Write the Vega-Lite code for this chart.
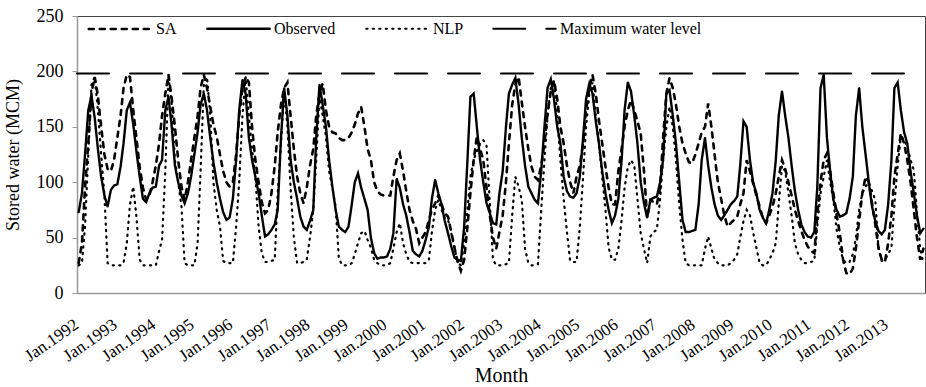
{
"$schema": "https://vega.github.io/schema/vega-lite/v6.json",
"width": 848, "height": 277, "autosize": "none",
"padding": {"left": 77, "top": 16, "right": 1, "bottom": 94},
"background": "white",
"config": {"font": "Liberation Serif", "view": {"stroke": "#444", "strokeWidth": 1},
  "axis": {"labelColor": "#000", "titleColor": "#000", "titleFontWeight": "normal", "grid": false}},
"datasets": {
"storage": [
{"m":"1992-01","SA":27,"Observed":73,"NLP":25},{"m":"1992-02","SA":45,"Observed":90,"NLP":27},{"m":"1992-03","SA":95,"Observed":125,"NLP":60},{"m":"1992-04","SA":135,"Observed":165,"NLP":125},{"m":"1992-05","SA":180,"Observed":178,"NLP":188},{"m":"1992-06","SA":195,"Observed":158,"NLP":195},{"m":"1992-07","SA":178,"Observed":130,"NLP":165},{"m":"1992-08","SA":150,"Observed":105,"NLP":125},{"m":"1992-09","SA":125,"Observed":88,"NLP":88},{"m":"1992-10","SA":112,"Observed":78,"NLP":27},{"m":"1992-11","SA":110,"Observed":93,"NLP":25},{"m":"1992-12","SA":120,"Observed":97,"NLP":25},
{"m":"1993-01","SA":140,"Observed":98,"NLP":25},{"m":"1993-02","SA":160,"Observed":114,"NLP":25},{"m":"1993-03","SA":185,"Observed":135,"NLP":27},{"m":"1993-04","SA":197,"Observed":165,"NLP":45},{"m":"1993-05","SA":195,"Observed":172,"NLP":80},{"m":"1993-06","SA":165,"Observed":152,"NLP":96},{"m":"1993-07","SA":140,"Observed":128,"NLP":69},{"m":"1993-08","SA":114,"Observed":105,"NLP":30},{"m":"1993-09","SA":95,"Observed":85,"NLP":25},{"m":"1993-10","SA":84,"Observed":82,"NLP":25},{"m":"1993-11","SA":88,"Observed":90,"NLP":25},{"m":"1993-12","SA":100,"Observed":95,"NLP":25},
{"m":"1994-01","SA":115,"Observed":96,"NLP":25},{"m":"1994-02","SA":135,"Observed":115,"NLP":38},{"m":"1994-03","SA":160,"Observed":120,"NLP":48},{"m":"1994-04","SA":180,"Observed":165,"NLP":110},{"m":"1994-05","SA":197,"Observed":177,"NLP":195},{"m":"1994-06","SA":175,"Observed":150,"NLP":170},{"m":"1994-07","SA":150,"Observed":115,"NLP":120},{"m":"1994-08","SA":120,"Observed":100,"NLP":100},{"m":"1994-09","SA":96,"Observed":88,"NLP":78},{"m":"1994-10","SA":84,"Observed":81,"NLP":27},{"m":"1994-11","SA":100,"Observed":90,"NLP":25},{"m":"1994-12","SA":120,"Observed":105,"NLP":25},
{"m":"1995-01","SA":140,"Observed":125,"NLP":25},{"m":"1995-02","SA":160,"Observed":145,"NLP":45},{"m":"1995-03","SA":185,"Observed":170,"NLP":110},{"m":"1995-04","SA":197,"Observed":180,"NLP":188},{"m":"1995-05","SA":185,"Observed":165,"NLP":195},{"m":"1995-06","SA":168,"Observed":140,"NLP":160},{"m":"1995-07","SA":152,"Observed":118,"NLP":100},{"m":"1995-08","SA":141,"Observed":100,"NLP":75},{"m":"1995-09","SA":125,"Observed":85,"NLP":60},{"m":"1995-10","SA":110,"Observed":73,"NLP":29},{"m":"1995-11","SA":100,"Observed":66,"NLP":27},{"m":"1995-12","SA":96,"Observed":68,"NLP":27},
{"m":"1996-01","SA":100,"Observed":85,"NLP":27},{"m":"1996-02","SA":125,"Observed":120,"NLP":60},{"m":"1996-03","SA":160,"Observed":165,"NLP":100},{"m":"1996-04","SA":185,"Observed":192,"NLP":160},{"m":"1996-05","SA":195,"Observed":180,"NLP":195},{"m":"1996-06","SA":190,"Observed":140,"NLP":160},{"m":"1996-07","SA":150,"Observed":120,"NLP":130},{"m":"1996-08","SA":120,"Observed":105,"NLP":105},{"m":"1996-09","SA":100,"Observed":90,"NLP":60},{"m":"1996-10","SA":82,"Observed":70,"NLP":36},{"m":"1996-11","SA":72,"Observed":51,"NLP":28},{"m":"1996-12","SA":75,"Observed":53,"NLP":28},
{"m":"1997-01","SA":90,"Observed":57,"NLP":29},{"m":"1997-02","SA":115,"Observed":62,"NLP":30},{"m":"1997-03","SA":145,"Observed":75,"NLP":90},{"m":"1997-04","SA":170,"Observed":140,"NLP":135},{"m":"1997-05","SA":185,"Observed":185,"NLP":183},{"m":"1997-06","SA":190,"Observed":160,"NLP":150},{"m":"1997-07","SA":160,"Observed":120,"NLP":95},{"m":"1997-08","SA":130,"Observed":100,"NLP":50},{"m":"1997-09","SA":105,"Observed":85,"NLP":27},{"m":"1997-10","SA":90,"Observed":69,"NLP":27},{"m":"1997-11","SA":81,"Observed":60,"NLP":28},{"m":"1997-12","SA":95,"Observed":57,"NLP":30},
{"m":"1998-01","SA":115,"Observed":65,"NLP":50},{"m":"1998-02","SA":130,"Observed":75,"NLP":75},{"m":"1998-03","SA":160,"Observed":140,"NLP":120},{"m":"1998-04","SA":180,"Observed":188,"NLP":178},{"m":"1998-05","SA":189,"Observed":170,"NLP":160},{"m":"1998-06","SA":165,"Observed":150,"NLP":141},{"m":"1998-07","SA":150,"Observed":120,"NLP":110},{"m":"1998-08","SA":145,"Observed":96,"NLP":95},{"m":"1998-09","SA":144,"Observed":75,"NLP":78},{"m":"1998-10","SA":140,"Observed":60,"NLP":32},{"m":"1998-11","SA":138,"Observed":57,"NLP":25},{"m":"1998-12","SA":138,"Observed":55,"NLP":25},
{"m":"1999-01","SA":140,"Observed":60,"NLP":25},{"m":"1999-02","SA":145,"Observed":80,"NLP":27},{"m":"1999-03","SA":152,"Observed":100,"NLP":35},{"m":"1999-04","SA":162,"Observed":108,"NLP":45},{"m":"1999-05","SA":168,"Observed":95,"NLP":54},{"m":"1999-06","SA":150,"Observed":85,"NLP":56},{"m":"1999-07","SA":130,"Observed":75,"NLP":48},{"m":"1999-08","SA":120,"Observed":50,"NLP":41},{"m":"1999-09","SA":100,"Observed":36,"NLP":30},{"m":"1999-10","SA":92,"Observed":31,"NLP":27},{"m":"1999-11","SA":89,"Observed":32,"NLP":25},{"m":"1999-12","SA":88,"Observed":32,"NLP":25},
{"m":"2000-01","SA":88,"Observed":33,"NLP":25},{"m":"2000-02","SA":88,"Observed":40,"NLP":27},{"m":"2000-03","SA":105,"Observed":54,"NLP":40},{"m":"2000-04","SA":120,"Observed":103,"NLP":55},{"m":"2000-05","SA":126,"Observed":95,"NLP":63},{"m":"2000-06","SA":110,"Observed":80,"NLP":45},{"m":"2000-07","SA":92,"Observed":70,"NLP":35},{"m":"2000-08","SA":75,"Observed":55,"NLP":28},{"m":"2000-09","SA":65,"Observed":38,"NLP":27},{"m":"2000-10","SA":58,"Observed":35,"NLP":27},{"m":"2000-11","SA":45,"Observed":33,"NLP":27},{"m":"2000-12","SA":50,"Observed":38,"NLP":27},
{"m":"2001-01","SA":55,"Observed":48,"NLP":27},{"m":"2001-02","SA":66,"Observed":60,"NLP":30},{"m":"2001-03","SA":75,"Observed":85,"NLP":55},{"m":"2001-04","SA":81,"Observed":102,"NLP":75},{"m":"2001-05","SA":88,"Observed":90,"NLP":84},{"m":"2001-06","SA":80,"Observed":80,"NLP":75},{"m":"2001-07","SA":72,"Observed":65,"NLP":68},{"m":"2001-08","SA":69,"Observed":54,"NLP":66},{"m":"2001-09","SA":55,"Observed":42,"NLP":54},{"m":"2001-10","SA":41,"Observed":32,"NLP":41},{"m":"2001-11","SA":28,"Observed":30,"NLP":27},{"m":"2001-12","SA":20,"Observed":29,"NLP":25},
{"m":"2002-01","SA":30,"Observed":60,"NLP":45},{"m":"2002-02","SA":60,"Observed":120,"NLP":75},{"m":"2002-03","SA":90,"Observed":177,"NLP":105},{"m":"2002-04","SA":120,"Observed":180,"NLP":120},{"m":"2002-05","SA":141,"Observed":150,"NLP":128},{"m":"2002-06","SA":130,"Observed":120,"NLP":135},{"m":"2002-07","SA":120,"Observed":100,"NLP":138},{"m":"2002-08","SA":95,"Observed":81,"NLP":133},{"m":"2002-09","SA":70,"Observed":72,"NLP":81},{"m":"2002-10","SA":50,"Observed":63,"NLP":30},{"m":"2002-11","SA":40,"Observed":62,"NLP":25},{"m":"2002-12","SA":55,"Observed":90,"NLP":25},
{"m":"2003-01","SA":70,"Observed":110,"NLP":25},{"m":"2003-02","SA":100,"Observed":150,"NLP":26},{"m":"2003-03","SA":135,"Observed":180,"NLP":27},{"m":"2003-04","SA":170,"Observed":188,"NLP":70},{"m":"2003-05","SA":188,"Observed":194,"NLP":105},{"m":"2003-06","SA":195,"Observed":170,"NLP":96},{"m":"2003-07","SA":172,"Observed":140,"NLP":84},{"m":"2003-08","SA":150,"Observed":115,"NLP":40},{"m":"2003-09","SA":130,"Observed":96,"NLP":27},{"m":"2003-10","SA":114,"Observed":90,"NLP":25},{"m":"2003-11","SA":105,"Observed":84,"NLP":25},{"m":"2003-12","SA":102,"Observed":81,"NLP":26},
{"m":"2004-01","SA":115,"Observed":110,"NLP":75},{"m":"2004-02","SA":135,"Observed":150,"NLP":120},{"m":"2004-03","SA":162,"Observed":185,"NLP":160},{"m":"2004-04","SA":182,"Observed":193,"NLP":185},{"m":"2004-05","SA":192,"Observed":175,"NLP":192},{"m":"2004-06","SA":175,"Observed":150,"NLP":160},{"m":"2004-07","SA":150,"Observed":135,"NLP":120},{"m":"2004-08","SA":135,"Observed":105,"NLP":85},{"m":"2004-09","SA":115,"Observed":92,"NLP":55},{"m":"2004-10","SA":100,"Observed":87,"NLP":29},{"m":"2004-11","SA":90,"Observed":86,"NLP":28},{"m":"2004-12","SA":105,"Observed":90,"NLP":28},
{"m":"2005-01","SA":115,"Observed":105,"NLP":60},{"m":"2005-02","SA":135,"Observed":140,"NLP":105},{"m":"2005-03","SA":165,"Observed":175,"NLP":150},{"m":"2005-04","SA":185,"Observed":189,"NLP":180},{"m":"2005-05","SA":197,"Observed":180,"NLP":190},{"m":"2005-06","SA":180,"Observed":155,"NLP":160},{"m":"2005-07","SA":156,"Observed":135,"NLP":135},{"m":"2005-08","SA":135,"Observed":110,"NLP":105},{"m":"2005-09","SA":114,"Observed":90,"NLP":75},{"m":"2005-10","SA":95,"Observed":75,"NLP":41},{"m":"2005-11","SA":80,"Observed":63,"NLP":30},{"m":"2005-12","SA":80,"Observed":70,"NLP":30},
{"m":"2006-01","SA":110,"Observed":85,"NLP":40},{"m":"2006-02","SA":130,"Observed":120,"NLP":66},{"m":"2006-03","SA":150,"Observed":165,"NLP":95},{"m":"2006-04","SA":165,"Observed":190,"NLP":114},{"m":"2006-05","SA":174,"Observed":182,"NLP":120},{"m":"2006-06","SA":165,"Observed":160,"NLP":115},{"m":"2006-07","SA":155,"Observed":135,"NLP":85},{"m":"2006-08","SA":144,"Observed":100,"NLP":54},{"m":"2006-09","SA":110,"Observed":81,"NLP":40},{"m":"2006-10","SA":68,"Observed":68,"NLP":27},{"m":"2006-11","SA":84,"Observed":84,"NLP":51},{"m":"2006-12","SA":82,"Observed":86,"NLP":55},
{"m":"2007-01","SA":80,"Observed":87,"NLP":57},{"m":"2007-02","SA":95,"Observed":100,"NLP":85},{"m":"2007-03","SA":140,"Observed":120,"NLP":120},{"m":"2007-04","SA":180,"Observed":180,"NLP":150},{"m":"2007-05","SA":194,"Observed":183,"NLP":168},{"m":"2007-06","SA":185,"Observed":160,"NLP":150},{"m":"2007-07","SA":170,"Observed":135,"NLP":120},{"m":"2007-08","SA":150,"Observed":100,"NLP":80},{"m":"2007-09","SA":135,"Observed":66,"NLP":48},{"m":"2007-10","SA":126,"Observed":55,"NLP":27},{"m":"2007-11","SA":118,"Observed":55,"NLP":25},{"m":"2007-12","SA":117,"Observed":56,"NLP":25},
{"m":"2008-01","SA":125,"Observed":57,"NLP":25},{"m":"2008-02","SA":135,"Observed":80,"NLP":25},{"m":"2008-03","SA":145,"Observed":120,"NLP":25},{"m":"2008-04","SA":150,"Observed":140,"NLP":40},{"m":"2008-05","SA":171,"Observed":115,"NLP":51},{"m":"2008-06","SA":150,"Observed":95,"NLP":40},{"m":"2008-07","SA":125,"Observed":80,"NLP":30},{"m":"2008-08","SA":100,"Observed":70,"NLP":27},{"m":"2008-09","SA":85,"Observed":66,"NLP":25},{"m":"2008-10","SA":70,"Observed":70,"NLP":25},{"m":"2008-11","SA":60,"Observed":75,"NLP":25},{"m":"2008-12","SA":63,"Observed":80,"NLP":27},
{"m":"2009-01","SA":66,"Observed":83,"NLP":30},{"m":"2009-02","SA":69,"Observed":87,"NLP":35},{"m":"2009-03","SA":80,"Observed":115,"NLP":50},{"m":"2009-04","SA":90,"Observed":155,"NLP":65},{"m":"2009-05","SA":120,"Observed":150,"NLP":75},{"m":"2009-06","SA":110,"Observed":120,"NLP":70},{"m":"2009-07","SA":99,"Observed":100,"NLP":55},{"m":"2009-08","SA":88,"Observed":90,"NLP":41},{"m":"2009-09","SA":78,"Observed":75,"NLP":27},{"m":"2009-10","SA":68,"Observed":68,"NLP":25},{"m":"2009-11","SA":63,"Observed":63,"NLP":25},{"m":"2009-12","SA":70,"Observed":75,"NLP":30},
{"m":"2010-01","SA":78,"Observed":90,"NLP":36},{"m":"2010-02","SA":90,"Observed":120,"NLP":45},{"m":"2010-03","SA":105,"Observed":160,"NLP":80},{"m":"2010-04","SA":120,"Observed":182,"NLP":115},{"m":"2010-05","SA":112,"Observed":160,"NLP":110},{"m":"2010-06","SA":100,"Observed":140,"NLP":90},{"m":"2010-07","SA":88,"Observed":115,"NLP":70},{"m":"2010-08","SA":75,"Observed":92,"NLP":45},{"m":"2010-09","SA":65,"Observed":75,"NLP":35},{"m":"2010-10","SA":56,"Observed":62,"NLP":30},{"m":"2010-11","SA":48,"Observed":55,"NLP":27},{"m":"2010-12","SA":42,"Observed":51,"NLP":27},
{"m":"2011-01","SA":38,"Observed":50,"NLP":28},{"m":"2011-02","SA":36,"Observed":55,"NLP":29},{"m":"2011-03","SA":70,"Observed":95,"NLP":60},{"m":"2011-04","SA":100,"Observed":185,"NLP":90},{"m":"2011-05","SA":120,"Observed":197,"NLP":105},{"m":"2011-06","SA":126,"Observed":140,"NLP":120},{"m":"2011-07","SA":110,"Observed":110,"NLP":100},{"m":"2011-08","SA":90,"Observed":84,"NLP":84},{"m":"2011-09","SA":70,"Observed":75,"NLP":57},{"m":"2011-10","SA":54,"Observed":69,"NLP":41},{"m":"2011-11","SA":30,"Observed":70,"NLP":30},{"m":"2011-12","SA":18,"Observed":72,"NLP":27},
{"m":"2012-01","SA":17,"Observed":85,"NLP":28},{"m":"2012-02","SA":22,"Observed":105,"NLP":35},{"m":"2012-03","SA":40,"Observed":160,"NLP":50},{"m":"2012-04","SA":65,"Observed":185,"NLP":75},{"m":"2012-05","SA":90,"Observed":150,"NLP":90},{"m":"2012-06","SA":105,"Observed":125,"NLP":96},{"m":"2012-07","SA":100,"Observed":100,"NLP":100},{"m":"2012-08","SA":81,"Observed":78,"NLP":92},{"m":"2012-09","SA":62,"Observed":65,"NLP":84},{"m":"2012-10","SA":41,"Observed":56,"NLP":40},{"m":"2012-11","SA":30,"Observed":53,"NLP":29},{"m":"2012-12","SA":28,"Observed":57,"NLP":30},
{"m":"2013-01","SA":45,"Observed":80,"NLP":35},{"m":"2013-02","SA":70,"Observed":120,"NLP":41},{"m":"2013-03","SA":105,"Observed":185,"NLP":80},{"m":"2013-04","SA":125,"Observed":190,"NLP":115},{"m":"2013-05","SA":144,"Observed":165,"NLP":141},{"m":"2013-06","SA":135,"Observed":145,"NLP":138},{"m":"2013-07","SA":120,"Observed":135,"NLP":132},{"m":"2013-08","SA":100,"Observed":110,"NLP":120},{"m":"2013-09","SA":75,"Observed":90,"NLP":111},{"m":"2013-10","SA":50,"Observed":70,"NLP":72},{"m":"2013-11","SA":30,"Observed":54,"NLP":40},{"m":"2013-12","SA":40,"Observed":58,"NLP":27}
],
"maxlevel": [
{"m":"1991-12-16","series":"Maximum water level","value":198},
{"m":"2013-12-16","series":"Maximum water level","value":198}
]
},
"encoding": {
  "x": {"field": "m", "type": "temporal",
    "scale": {"type": "utc", "domain": [{"year":1991,"month":12,"date":16,"utc":true},{"year":2013,"month":12,"date":16,"utc":true}]},
    "axis": {"title": "Month", "format": "%b.%Y", "tickCount": {"interval": "year", "step": 1},
      "labelAngle": -35, "labelOverlap": false, "labelBound": false, "labelFlush": false,
      "ticks": false, "domainColor": "#999", "domainWidth": 1.5, "labelFontSize": 17, "labelPadding": 23,
      "labelOffset": -7,
      "titleFontSize": 20, "titlePadding": 1}},
  "y": {"field": "value", "type": "quantitative",
    "scale": {"domain": [0, 250], "nice": false},
    "axis": {"title": "Stored water (MCM)", "values": [0, 50, 100, 150, 200, 250],
      "domainColor": "#999", "domainWidth": 1.5, "tickColor": "#999", "tickSize": 5,
      "labelFontSize": 18, "labelPadding": 9, "titleFontSize": 18, "titlePadding": 14}},
  "strokeDash": {"field": "series", "type": "nominal",
    "scale": {"domain": ["SA", "Observed", "NLP", "Maximum water level"], "range": [[5, 6], [1, 0], [1.2, 5.3], [32, 21]]},
    "legend": {"title": null, "orient": "none", "legendX": 10, "legendY": -20, "direction": "horizontal",
      "symbolType": "stroke", "symbolSize": 3900, "symbolStrokeColor": "#000", "labelFontSize": 16,
      "labelColor": "#000", "labelOffset": 3, "columnPadding": 25, "padding": 0,
      "encode": {"symbols": {"update": {"strokeWidth": {"signal": "datum.value === 'Maximum water level' ? 5 : datum.value === 'Observed' ? 2 : datum.value === 'NLP' ? 3.4 : 2.6"}, "strokeCap": {"value": "round"}}}}}},
  "strokeWidth": {"field": "series", "type": "nominal",
    "scale": {"domain": ["SA", "Observed", "NLP", "Maximum water level"], "range": [2.6, 2, 3.4, 5]},
    "legend": {"title": null, "orient": "none", "legendX": 10, "legendY": -20, "direction": "horizontal",
      "symbolType": "stroke", "symbolSize": 3900, "symbolStrokeColor": "#000", "labelFontSize": 16,
      "labelColor": "#000", "labelOffset": 3, "columnPadding": 25, "padding": 0,
      "encode": {"symbols": {"update": {"strokeWidth": {"signal": "datum.value === 'Maximum water level' ? 5 : datum.value === 'Observed' ? 2 : datum.value === 'NLP' ? 3.4 : 2.6"}, "strokeCap": {"value": "round"}}}}}},
  "color": {"value": "#000"}
},
"layer": [
  {"data": {"name": "storage"},
   "transform": [{"fold": ["SA", "Observed", "NLP"], "as": ["series", "value"]}],
   "mark": {"type": "line", "strokeCap": "round"}},
  {"data": {"name": "maxlevel"},
   "mark": {"type": "line", "strokeCap": "round"}}
]
}
